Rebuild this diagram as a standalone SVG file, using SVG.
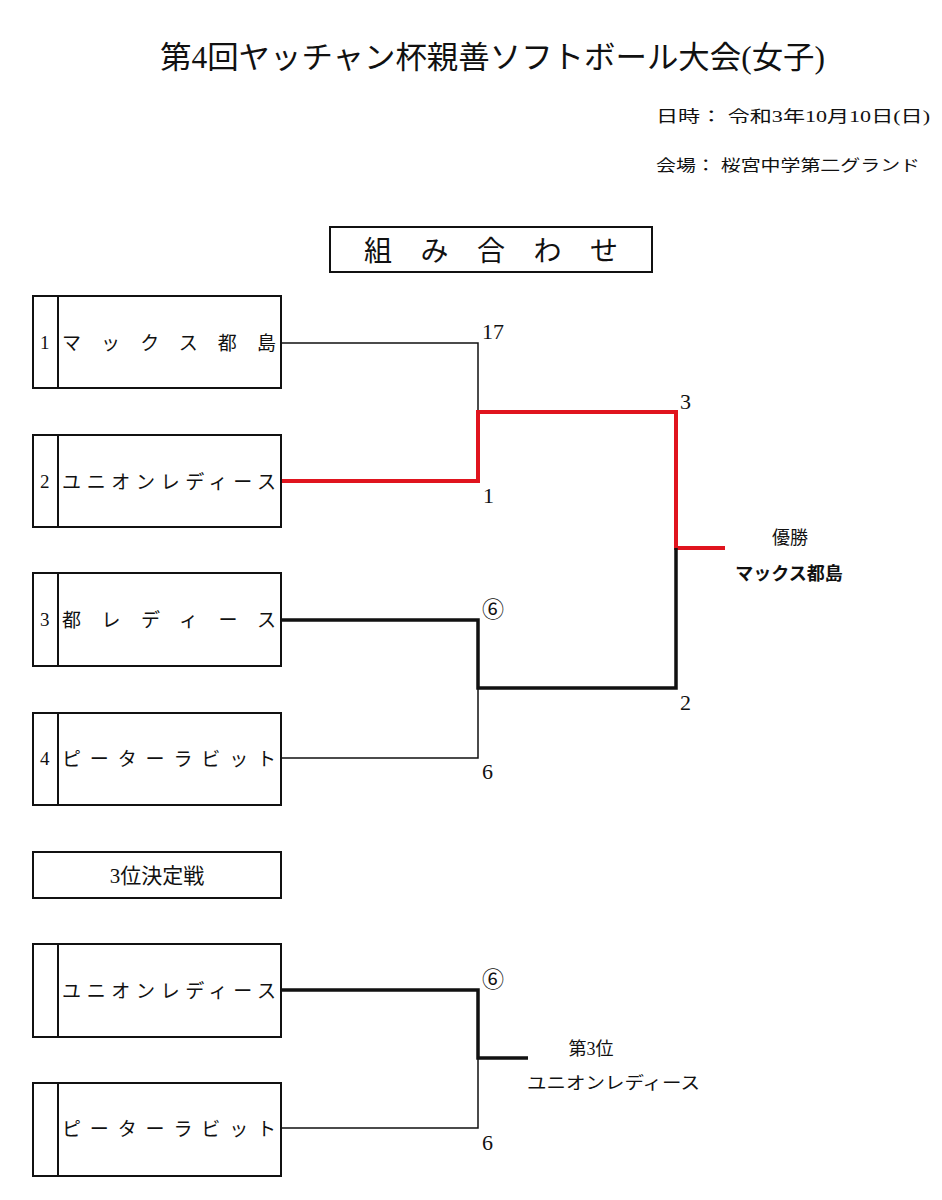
<svg xmlns="http://www.w3.org/2000/svg" width="942" height="1200" viewBox="0 0 942 1200">
<style>
text{font-family:"Liberation Serif","Noto Sans CJK JP",serif;fill:#111}
.box{fill:#fff;stroke:#111;stroke-width:2}
.nm{font-size:19px}
.num{font-size:19px}
.sc{font-size:22px}
.thin{fill:none;stroke:#111;stroke-width:1.5}
.thick{fill:none;stroke:#111;stroke-width:3.5}
.red{fill:none;stroke:#e0141e;stroke-width:4}
</style>
<rect width="942" height="1200" fill="#fff"/>
<g id="title">
<text x="160" y="68" font-size="31" textLength="665" lengthAdjust="spacingAndGlyphs">第4回ヤッチャン杯親善ソフトボール大会(女子)</text>
</g>
<g id="info">
<text x="656" y="122" font-size="16" textLength="274" lengthAdjust="spacingAndGlyphs">日時： 令和3年10月10日(日)</text>
<text x="656" y="171" font-size="16" textLength="264" lengthAdjust="spacingAndGlyphs">会場： 桜宮中学第二グランド</text>
</g>
<g id="heading">
<rect x="330" y="227" width="322" height="45" fill="#fff" stroke="#111" stroke-width="2"/>
<text x="364" y="261" font-size="28" textLength="254" lengthAdjust="spacing">組み合わせ</text>
</g>
<g id="connectors">
<path class="thin" d="M281,343 H478 V412"/>
<path class="red" d="M281,481 H478 V412 H676 V548 H725"/>
<path class="thick" d="M281,620 H478 V688 H676 V548"/>
<path class="thin" d="M281,758 H478 V688"/>
<path class="thick" d="M281,990 H478 V1058 H528"/>
<path class="thin" d="M281,1128 H478 V1058"/>
</g>
<g id="team1">
<rect class="box" x="33" y="296" width="248" height="92"/>
<line x1="58" y1="296" x2="58" y2="388" stroke="#111" stroke-width="2"/>
<text class="num" x="40" y="349">1</text>
<text class="nm" x="62" y="350" textLength="214" lengthAdjust="spacing">マックス都島</text>
</g>
<g id="team2">
<rect class="box" x="33" y="435" width="248" height="92"/>
<line x1="58" y1="435" x2="58" y2="527" stroke="#111" stroke-width="2"/>
<text class="num" x="40" y="488">2</text>
<text class="nm" x="62" y="489" textLength="214" lengthAdjust="spacing">ユニオンレディース</text>
</g>
<g id="team3">
<rect class="box" x="33" y="573" width="248" height="93"/>
<line x1="58" y1="573" x2="58" y2="666" stroke="#111" stroke-width="2"/>
<text class="num" x="40" y="626">3</text>
<text class="nm" x="62" y="627" textLength="214" lengthAdjust="spacing">都レディース</text>
</g>
<g id="team4">
<rect class="box" x="33" y="713" width="248" height="92"/>
<line x1="58" y1="713" x2="58" y2="805" stroke="#111" stroke-width="2"/>
<text class="num" x="40" y="765">4</text>
<text class="nm" x="62" y="766" textLength="214" lengthAdjust="spacing">ピーターラビット</text>
</g>
<g id="scores">
<text class="sc" x="482" y="339">17</text>
<text class="sc" x="483" y="503">1</text>
<text class="sc" x="680" y="409">3</text>
<text class="sc" x="482" y="617">⑥</text>
<text class="sc" x="680" y="710">2</text>
<text class="sc" x="482" y="779">6</text>
<text class="sc" x="482" y="987">⑥</text>
<text class="sc" x="482" y="1150">6</text>
</g>
<g id="winner">
<text x="790" y="544" font-size="18" text-anchor="middle">優勝</text>
<text x="789" y="580" font-size="18" font-weight="bold" text-anchor="middle">マックス都島</text>
</g>
<g id="third-heading">
<rect class="box" x="33" y="852" width="248" height="46"/>
<text x="157" y="883" font-size="21" text-anchor="middle">3位決定戦</text>
</g>
<g id="team5">
<rect class="box" x="33" y="944" width="248" height="93"/>
<line x1="58" y1="944" x2="58" y2="1037" stroke="#111" stroke-width="2"/>
<text class="nm" x="62" y="998" textLength="214" lengthAdjust="spacing">ユニオンレディース</text>
</g>
<g id="team6">
<rect class="box" x="33" y="1083" width="248" height="93"/>
<line x1="58" y1="1083" x2="58" y2="1176" stroke="#111" stroke-width="2"/>
<text class="nm" x="62" y="1136" textLength="214" lengthAdjust="spacing">ピーターラビット</text>
</g>
<g id="third">
<text x="591" y="1055" font-size="18" text-anchor="middle">第3位</text>
<text x="527" y="1089" font-size="17" textLength="173" lengthAdjust="spacingAndGlyphs">ユニオンレディース</text>
</g>
</svg>
